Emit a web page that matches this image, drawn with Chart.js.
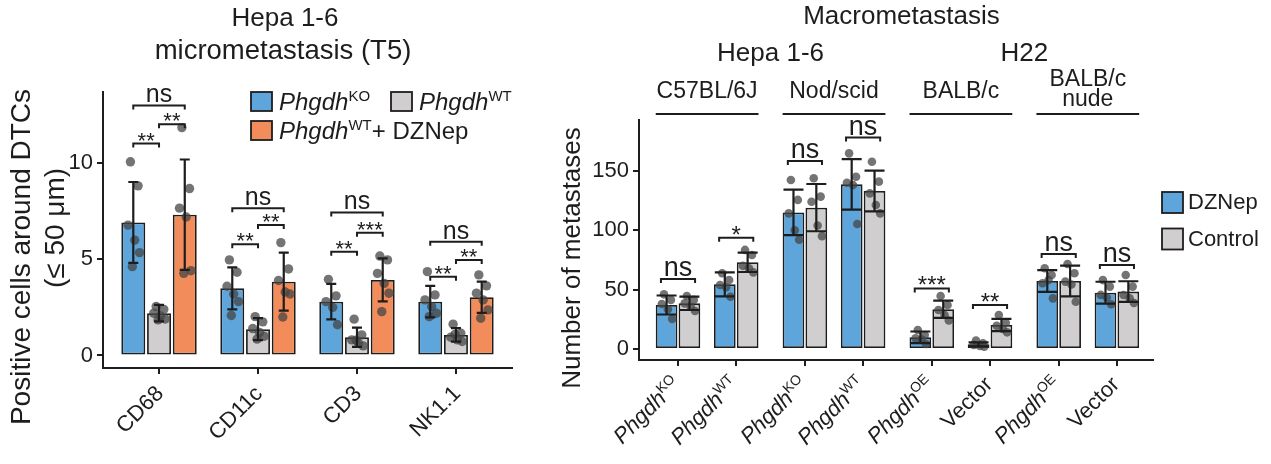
<!DOCTYPE html>
<html>
<head>
<meta charset="utf-8">
<script src="https://cdn.jsdelivr.net/npm/chart.js@4.4.1/dist/chart.umd.min.js"></script>
<style>
    html, body { margin: 0; padding: 0; background: #fff; }
    #wrap { position: relative; width: 1271px; height: 464px; overflow: hidden; }
    #left { position: absolute; left: 0; top: 0; }
    #right { position: absolute; left: 540px; top: 0; }
</style>
</head>
<body>
<div id="wrap">
    <canvas id="left" width="540" height="464"></canvas>
    <canvas id="right" width="731" height="464"></canvas>
</div>
<script>
// ---- left panel: micrometastasis
var markers = ['CD68', 'CD11c', 'CD3', 'NK1.1'];
var leftGroups = ['Phgdh^{KO}', 'Phgdh^{WT}', 'Phgdh^{WT}+ DZNep'];
var koMean = [6.92, 3.49, 2.80, 2.80];
var koSd = [2.10, 1.09, 0.92, 0.82];
var wtMean = [2.20, 1.37, 0.95, 1.07];
var wtSd = [0.43, 0.57, 0.50, 0.35];
var dzMean = [7.32, 3.84, 3.93, 3.03];
var dzSd = [2.87, 1.51, 1.12, 0.81];
var koDots = [
    [10.07, 8.82, 6.78, 6.00, 5.35, 4.62],
    [4.97, 4.33, 3.60, 3.20, 2.80, 2.08],
    [3.96, 3.10, 2.80, 2.50, 1.60],
    [4.36, 3.15, 2.89, 2.54, 2.20, 2.02]
];
var wtDots = [
    [2.55, 2.40, 2.20, 2.05, 1.90, 1.85],
    [2.02, 1.75, 1.40, 1.20, 1.00, 0.85],
    [1.89, 1.07, 0.81, 0.64, 0.50, 0.80],
    [1.63, 1.16, 0.95, 0.81, 0.73, 1.10]
];
var dzDots = [
    [11.85, 8.68, 7.66, 7.20, 4.41, 4.27],
    [5.87, 4.50, 3.90, 3.30, 3.20, 2.00],
    [5.17, 4.97, 4.27, 3.75, 3.24, 2.28],
    [4.19, 3.62, 3.24, 2.89, 2.37, 1.94]
];
var leftTicks = [0, 5, 10];
var sigKoDz = ['ns', 'ns', 'ns', 'ns'];
var sigKoDzY = [13.0, 7.65, 7.44, 5.92];
var sigKoWt = ['**', '**', '**', '**'];
var sigKoWtY = [11.02, 5.78, 5.40, 4.10];
var sigWtDz = ['**', '**', '***', '**'];
var sigWtDzY = [12.02, 6.78, 6.38, 4.97];

// ---- right panel: macrometastasis
var cellLines = ['Hepa 1-6', 'H22'];
var strains = ['C57BL/6J', 'Nod/scid', 'BALB/c', 'BALB/c\nnude'];
var genotypes = ['Phgdh^{KO}', 'Phgdh^{WT}', 'Phgdh^{KO}', 'Phgdh^{WT}', 'Phgdh^{OE}', 'Vector', 'Phgdh^{OE}', 'Vector'];
var treatments = ['DZNep', 'Control'];
var dzMeanR = [37.0, 54.4, 115.0, 138.6, 9.8, 3.9, 57.2, 47.4];
var dzSdR = [8.0, 10.1, 19.2, 21.3, 4.9, 1.7, 9.1, 9.2];
var ctrlMeanR = [38.4, 73.0, 119.0, 133.0, 33.4, 20.2, 57.2, 48.3];
var ctrlSdR = [5.6, 8.2, 19.9, 17.2, 7.3, 5.2, 13.0, 8.7];
var dzDotsR = [
    [46.0, 41.3, 37.9, 33.4, 25.3],
    [63.7, 58.0, 53.9, 52.0, 44.0],
    [142.3, 125.5, 114.2, 100.0, 92.0],
    [164.7, 145.0, 140.0, 138.0, 105.2],
    [16.0, 11.8, 9.0, 8.0, 4.2],
    [7.0, 4.8, 3.4, 2.5, 1.8],
    [67.9, 62.3, 55.3, 58.0, 42.6],
    [58.0, 52.5, 45.5, 43.4, 37.6]
];
var ctrlDotsR = [
    [44.6, 41.3, 38.4, 35.6, 32.0],
    [83.4, 79.1, 70.0, 68.0, 64.5],
    [143.7, 128.3, 124.0, 104.0, 95.0],
    [157.7, 140.9, 131.0, 121.2, 114.2],
    [44.6, 37.0, 32.8, 28.6, 24.0],
    [28.6, 22.0, 19.6, 16.8, 14.0],
    [71.5, 63.7, 56.7, 54.3, 39.8],
    [62.3, 52.5, 45.4, 42.6, 38.7]
];
var rightTicks = [0, 50, 100, 150];
var pairSig = ['ns', '*', 'ns', 'ns', '***', '**', 'ns', 'ns'];
var pairSigY = [58.9, 93.7, 158.3, 178.0, 51.0, 37.0, 80.0, 70.7];

// ---- styling
var FONT = "'Liberation Sans', Arial, Helvetica, sans-serif";
var INK = '#1d1d1d';
var BLUE = '#5DA5DA';
var GREY = '#D0CECE';
var ORANGE = '#F28C5A';
var DOT = 'rgba(70, 70, 70, 0.75)';
var FACET_STEP = 2.18;   // x units between facets (pairs are 1 unit apart)
var JITTER = [-0.12, 0.2, -0.22, 0.06, 0.26, -0.04];

Chart.defaults.font.family = FONT;
Chart.defaults.color = INK;

function rightPos(g) {
    return Math.floor(g / 2) * FACET_STEP + (g % 2);
}

// text with italic gene names and ^{superscripts}
function richParts(label) {
    var out = [];
    label.split(/(\^\{[^}]*\})/).forEach(function (seg) {
        if (!seg) return;
        if (seg.indexOf('^{') === 0) {
            out.push({ text: seg.slice(2, -1), sup: true });
        } else {
            seg.split(/(Phgdh)/).forEach(function (s) {
                if (s) out.push({ text: s, italic: s === 'Phgdh' });
            });
        }
    });
    return out;
}

function drawRich(ctx, label, x, y, size, align) {
    var parts = richParts(label);
    var fontOf = function (p) {
        return (p.italic ? 'italic ' : '') + Math.round(p.sup ? size * 0.62 : size) + 'px ' + FONT;
    };
    var w = 0;
    parts.forEach(function (p) {
        ctx.font = fontOf(p);
        p.w = ctx.measureText(p.text).width;
        w += p.w;
    });
    var cx = align === 'right' ? x - w : (align === 'center' ? x - w / 2 : x);
    ctx.textAlign = 'left';
    ctx.textBaseline = 'alphabetic';
    parts.forEach(function (p) {
        ctx.font = fontOf(p);
        ctx.fillText(p.text, cx, p.sup ? y - size * 0.38 : y);
        cx += p.w;
    });
}

function drawText(ctx, text, x, y, size, rot) {
    ctx.save();
    ctx.translate(x, y);
    if (rot) ctx.rotate(rot);
    ctx.font = size + 'px ' + FONT;
    ctx.fillStyle = INK;
    ctx.textAlign = 'center';
    ctx.textBaseline = 'middle';
    ctx.fillText(text, 0, 0);
    ctx.restore();
}

function drawBracket(ctx, x0, x1, y, label, size) {
    ctx.beginPath();
    ctx.moveTo(x0, y + 4);
    ctx.lineTo(x0, y);
    ctx.lineTo(x1, y);
    ctx.lineTo(x1, y + 4);
    ctx.stroke();
    ctx.font = size + 'px ' + FONT;
    var m = ctx.measureText(label);
    ctx.textAlign = 'center';
    ctx.textBaseline = 'alphabetic';
    ctx.fillText(label, (x0 + x1) / 2, y - 3 - m.actualBoundingBoxDescent);
}

function drawDotsAndErrors(chart, dots, means, sds, dotR, capHalf) {
    var ctx = chart.ctx;
    var ys = chart.scales.y;
    ctx.save();
    chart.data.datasets.forEach(function (ds, d) {
        var meta = chart.getDatasetMeta(d);
        meta.data.forEach(function (bar, i) {
            ctx.fillStyle = DOT;
            dots[d][i].forEach(function (v, k) {
                ctx.beginPath();
                ctx.arc(bar.x + JITTER[k % JITTER.length] * bar.width, ys.getPixelForValue(v), dotR, 0, Math.PI * 2);
                ctx.fill();
            });
            var top = ys.getPixelForValue(means[d][i] + sds[d][i]);
            var bot = ys.getPixelForValue(means[d][i] - sds[d][i]);
            ctx.strokeStyle = INK;
            ctx.lineWidth = 2.2;
            ctx.beginPath();
            ctx.moveTo(bar.x, top); ctx.lineTo(bar.x, bot);
            ctx.moveTo(bar.x - capHalf, top); ctx.lineTo(bar.x + capHalf, top);
            ctx.moveTo(bar.x - capHalf, bot); ctx.lineTo(bar.x + capHalf, bot);
            ctx.stroke();
        });
    });
    ctx.restore();
}

function drawXLabels(chart, labels, dx, dy) {
    var ctx = chart.ctx;
    var xs = chart.scales.x;
    var bottom = chart.chartArea.bottom;
    ctx.save();
    ctx.fillStyle = INK;
    xs.ticks.forEach(function (t, i) {
        ctx.save();
        ctx.translate(xs.getPixelForValue(t.value) + dx, bottom + dy);
        ctx.rotate(-Math.PI / 4);
        drawRich(ctx, labels[i], 0, 22 * 0.36, 22, 'right');
        ctx.restore();
    });
    ctx.restore();
}

function legendBox(ctx, x, y, w, h, color) {
    ctx.fillStyle = color;
    ctx.fillRect(x, y, w, h);
    ctx.strokeStyle = INK;
    ctx.lineWidth = 1.8;
    ctx.strokeRect(x, y, w, h);
}

function axisOptions(min, max, tickValues, size) {
    return {
        type: 'linear',
        min: min,
        max: max,
        offset: false,
        grid: { display: true, offset: false, drawOnChartArea: false, drawTicks: true, tickLength: 6, color: INK, lineWidth: 2 },
        border: { display: true, color: INK, width: 2 },
        ticks: { autoSkip: false, maxRotation: 0, font: { size: size }, color: INK, padding: 4 },
        afterBuildTicks: function (s) {
            s.ticks = tickValues.map(function (v) { return { value: v }; });
        }
    };
}

// ---- left chart
var leftDecor = {
    id: 'leftDecor',
    afterDatasetsDraw: function (chart) {
        drawDotsAndErrors(chart, [koDots, wtDots, dzDots], [koMean, wtMean, dzMean], [koSd, wtSd, dzSd], 4.7, 5);
        var ctx = chart.ctx;
        var ys = chart.scales.y;
        var m0 = chart.getDatasetMeta(0).data, m1 = chart.getDatasetMeta(1).data, m2 = chart.getDatasetMeta(2).data;
        ctx.save();
        ctx.strokeStyle = INK;
        ctx.fillStyle = INK;
        ctx.lineWidth = 2;
        markers.forEach(function (m, i) {
            drawBracket(ctx, m0[i].x, m2[i].x, ys.getPixelForValue(sigKoDzY[i]), sigKoDz[i], 25);
            drawBracket(ctx, m0[i].x, m1[i].x, ys.getPixelForValue(sigKoWtY[i]), sigKoWt[i], 22);
            drawBracket(ctx, m1[i].x, m2[i].x, ys.getPixelForValue(sigWtDzY[i]), sigWtDz[i], 22);
        });
        ctx.restore();
    },
    afterDraw: function (chart) {
        var ctx = chart.ctx;
        drawText(ctx, 'Hepa 1-6', 285, 19, 26);
        drawText(ctx, 'micrometastasis (T5)', 283, 51, 27.5);
        drawText(ctx, 'Positive cells around DTCs', 22, 257, 28, -Math.PI / 2);
        drawText(ctx, '(≤ 50 μm)', 56, 228, 28, -Math.PI / 2);
        drawXLabels(chart, markers, 0, 21);

        ctx.save();
        var colors = [BLUE, GREY, ORANGE];
        var spots = [[251, 92], [391, 92], [251, 121]];
        leftGroups.forEach(function (g, i) {
            legendBox(ctx, spots[i][0], spots[i][1], 21, 19, colors[i]);
            ctx.fillStyle = INK;
            drawRich(ctx, g, spots[i][0] + 28, spots[i][1] + 18, 23.5, 'left');
        });
        ctx.restore();
    }
};

var leftX = axisOptions(-0.566, 3.566, markers.map(function (m, i) { return i; }), 22);
leftX.ticks.callback = function () { return ''; };
leftX.afterFit = function (s) { s.height = 96; };
var leftY = axisOptions(-0.65, 13.7, leftTicks, 22);
leftY.afterFit = function (s) { s.width = 103; };

function barSet(label, means, color, xOf) {
    return {
        label: label,
        data: means.map(function (v, i) { return { x: xOf(i), y: v }; }),
        backgroundColor: color,
        borderColor: INK,
        borderWidth: 1.8,
        borderSkipped: false
    };
}

new Chart(document.getElementById('left'), {
    type: 'bar',
    data: {
        datasets: [
            barSet(leftGroups[0], koMean, BLUE, function (i) { return i; }),
            barSet(leftGroups[1], wtMean, GREY, function (i) { return i; }),
            barSet(leftGroups[2], dzMean, ORANGE, function (i) { return i; })
        ]
    },
    options: {
        responsive: false,
        animation: false,
        events: [],
        layout: { padding: { top: 92, right: 28, left: 0, bottom: 0 } },
        datasets: { bar: { categoryPercentage: 0.78, barPercentage: 0.93 } },
        plugins: { legend: { display: false }, tooltip: { enabled: false } },
        scales: { x: leftX, y: leftY }
    },
    plugins: [leftDecor]
});

// ---- right chart
var rightDecor = {
    id: 'rightDecor',
    afterDatasetsDraw: function (chart) {
        drawDotsAndErrors(chart, [dzDotsR, ctrlDotsR], [dzMeanR, ctrlMeanR], [dzSdR, ctrlSdR], 4.3, 10);
        var ctx = chart.ctx;
        var ys = chart.scales.y;
        var m0 = chart.getDatasetMeta(0).data, m1 = chart.getDatasetMeta(1).data;
        ctx.save();
        ctx.strokeStyle = INK;
        ctx.fillStyle = INK;
        ctx.lineWidth = 2;
        genotypes.forEach(function (g, i) {
            var ext = m0[i].width * 0.26;
            drawBracket(ctx, m0[i].x - ext, m1[i].x + ext, ys.getPixelForValue(pairSigY[i]), pairSig[i], pairSig[i] === 'ns' ? 27 : 24);
        });
        ctx.restore();
    },
    afterDraw: function (chart) {
        var ctx = chart.ctx;
        var m0 = chart.getDatasetMeta(0).data, m1 = chart.getDatasetMeta(1).data;
        var facetL = [], facetR = [];
        strains.forEach(function (s, f) {
            facetL.push(m0[f * 2].x - m0[f * 2].width / 2);
            facetR.push(m1[f * 2 + 1].x + m1[f * 2 + 1].width / 2);
        });
        drawText(ctx, 'Macrometastasis', (facetL[0] + facetR[3]) / 2 + 4, 17, 26);
        cellLines.forEach(function (c, k) {
            drawText(ctx, c, (facetL[k * 2] + facetR[k * 2 + 1]) / 2, 54, 26);
        });
        ctx.save();
        ctx.strokeStyle = INK;
        ctx.lineWidth = 2.2;
        strains.forEach(function (s, f) {
            var cx = (facetL[f] + facetR[f]) / 2;
            var lines = s.split('\n');
            if (lines.length === 1) {
                drawText(ctx, lines[0], cx, 92, 23);
            } else {
                drawText(ctx, lines[0], cx, 80, 23);
                drawText(ctx, lines[1], cx, 100, 23);
            }
            ctx.beginPath();
            ctx.moveTo(facetL[f], 114);
            ctx.lineTo(facetR[f], 114);
            ctx.stroke();
        });
        ctx.restore();

        drawText(ctx, 'Number of metastases', 33, 258, 26, -Math.PI / 2);
        drawXLabels(chart, genotypes, -2, 20);

        ctx.save();
        [BLUE, GREY].forEach(function (c, i) {
            var y = 192 + i * 36.5;
            legendBox(ctx, 622, y, 21, 21, c);
            ctx.fillStyle = INK;
            ctx.font = '22px ' + FONT;
            ctx.textAlign = 'left';
            ctx.textBaseline = 'middle';
            ctx.fillText(treatments[i], 648, y + 11);
        });
        ctx.restore();
    }
};

var rightX = axisOptions(-0.67, 3 * FACET_STEP + 1 + 0.62, genotypes.map(function (g, i) { return rightPos(i); }), 22);
rightX.ticks.callback = function () { return ''; };
rightX.afterFit = function (s) { s.height = 104; };
var rightY = axisOptions(-9.3, 192.8, rightTicks, 22);
rightY.afterFit = function (s) { s.width = 99; };

new Chart(document.getElementById('right'), {
    type: 'bar',
    data: {
        datasets: [
            barSet(treatments[0], dzMeanR, BLUE, rightPos),
            barSet(treatments[1], ctrlMeanR, GREY, rightPos)
        ]
    },
    options: {
        responsive: false,
        animation: false,
        events: [],
        layout: { padding: { top: 120, right: 118, left: 0, bottom: 0 } },
        datasets: { bar: { categoryPercentage: 0.785, barPercentage: 0.95 } },
        plugins: { legend: { display: false }, tooltip: { enabled: false } },
        scales: { x: rightX, y: rightY }
    },
    plugins: [rightDecor]
});
</script>
</body>
</html>
